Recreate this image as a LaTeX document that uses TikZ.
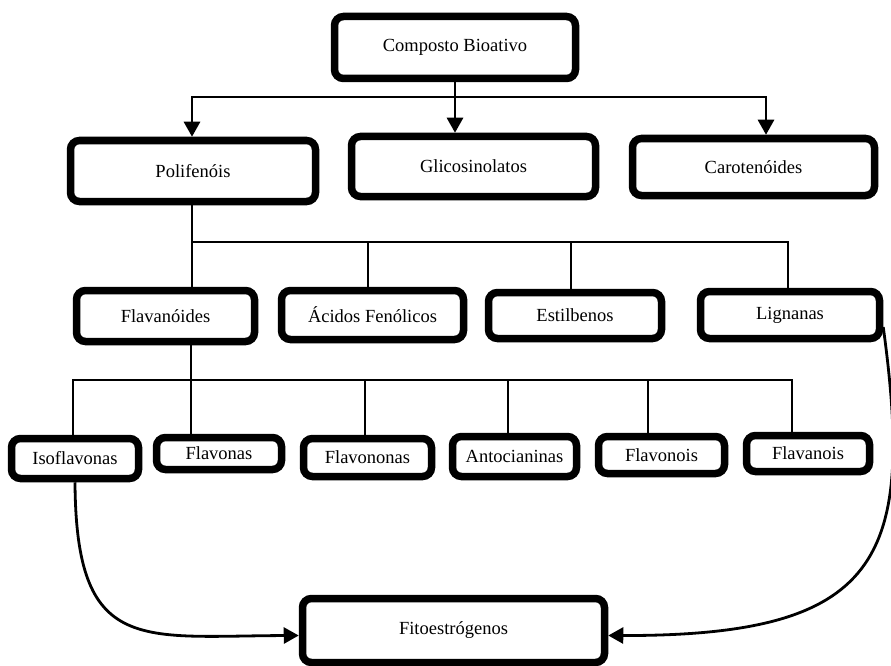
\documentclass[tikz,border=0pt]{standalone}
\usepackage{fontspec}
\setmainfont{Liberation Serif}
\usetikzlibrary{arrows.meta}
\begin{document}
\begin{tikzpicture}[x=1pt,y=-1pt,
  bx/.style={draw=black, line width=7.5pt, rounded corners=9pt, fill=white, inner sep=0pt, align=center, font=\fontsize{18.5}{22}\selectfont},
  ln/.style={line width=2.8pt},
  tip/.tip={Triangle[length=15pt,width=16pt]},
  arr/.style={line width=2.8pt, -tip},
  arrboth/.style={line width=2.8pt, tip-tip}]
\useasboundingbox (0,0) rectangle (891,666);
% level 0
\node[bx, minimum width=241pt, minimum height=62pt] (comp) at (455,47.5) {Composto Bioativo};
% level 1
\node[bx, minimum width=245pt, minimum height=61pt] (poli) at (193,171) {Polifenóis};
\node[bx, minimum width=244pt, minimum height=60pt] (glic) at (473.5,166.5) {Glicosinolatos};
\node[bx, minimum width=242pt, minimum height=57pt] (caro) at (753.5,167) {Carotenóides};
% level 2
\node[bx, minimum width=178pt, minimum height=51pt] (flav) at (165.5,316) {Flavanóides};
\node[bx, minimum width=182pt, minimum height=49pt] (acid) at (372.5,315) {Ácidos Fenólicos};
\node[bx, minimum width=173pt, minimum height=46pt] (esti) at (575,315.5) {Estilbenos};
\node[bx, minimum width=179pt, minimum height=47pt] (lign) at (790,315) {Lignanas};
% level 3
\node[bx, minimum width=127pt, minimum height=40pt] (iso) at (75,458.5) {Isoflavonas};
\node[bx, minimum width=125pt, minimum height=32pt] (flvs) at (219,453.5) {Flavonas};
\node[bx, minimum width=128pt, minimum height=38pt] (flvn) at (367.5,457.5) {Flavononas};
\node[bx, minimum width=124pt, minimum height=40pt] (anto) at (514.5,456.5) {Antocianinas};
\node[bx, minimum width=126pt, minimum height=37pt] (flvi) at (661.5,455) {Flavonois};
\node[bx, minimum width=123pt, minimum height=36pt] (flva) at (808,453.5) {Flavanois};
% bottom
\node[bx, minimum width=302pt, minimum height=64pt] (fito) at (453.5,630.5) {Fitoestrógenos};
% bus 1
\coordinate (pA) at (192,97);
\coordinate (cA) at (766,97);
\draw[arrboth] (pA |- poli.north) -- (pA) -- (cA) -- (cA |- caro.north);
\draw[arr] (comp.south) -- (comp.south |- glic.north);
% bus 2
\coordinate (b2L) at (192,242);
\coordinate (b2R) at (788,242);
\coordinate (ac) at (368,242);
\coordinate (es) at (571,242);
\draw[ln] (b2L |- poli.south) -- (b2L |- flav.north);
\draw[ln] (b2L) -- (b2R) -- (b2R |- lign.north);
\draw[ln] (ac) -- (ac |- acid.north);
\draw[ln] (es) -- (es |- esti.north);
% bus 3
\coordinate (b3L) at (73,380);
\coordinate (b3R) at (792,380);
\coordinate (v1) at (191,380);
\coordinate (v2) at (365,380);
\coordinate (v3) at (508,380);
\coordinate (v4) at (648,380);
\draw[ln] (v1 |- flav.south) -- (v1 |- flvs.north);
\draw[ln] (b3L |- iso.north) -- (b3L) -- (b3R) -- (b3R |- flva.north);
\draw[ln] (v2) -- (v2 |- flvn.north);
\draw[ln] (v3) -- (v3 |- anto.north);
\draw[ln] (v4) -- (v4 |- flvi.north);
% curves to Fitoestrogenos
\draw[arr] (iso.south) .. controls (76,655) and (140,636) .. ([yshift=-5pt]fito.west);
\draw[arr] ([yshift=-12pt]lign.east) .. controls (915,560) and (880,636) .. ([yshift=-5pt]fito.east);
\end{tikzpicture}
\end{document}
